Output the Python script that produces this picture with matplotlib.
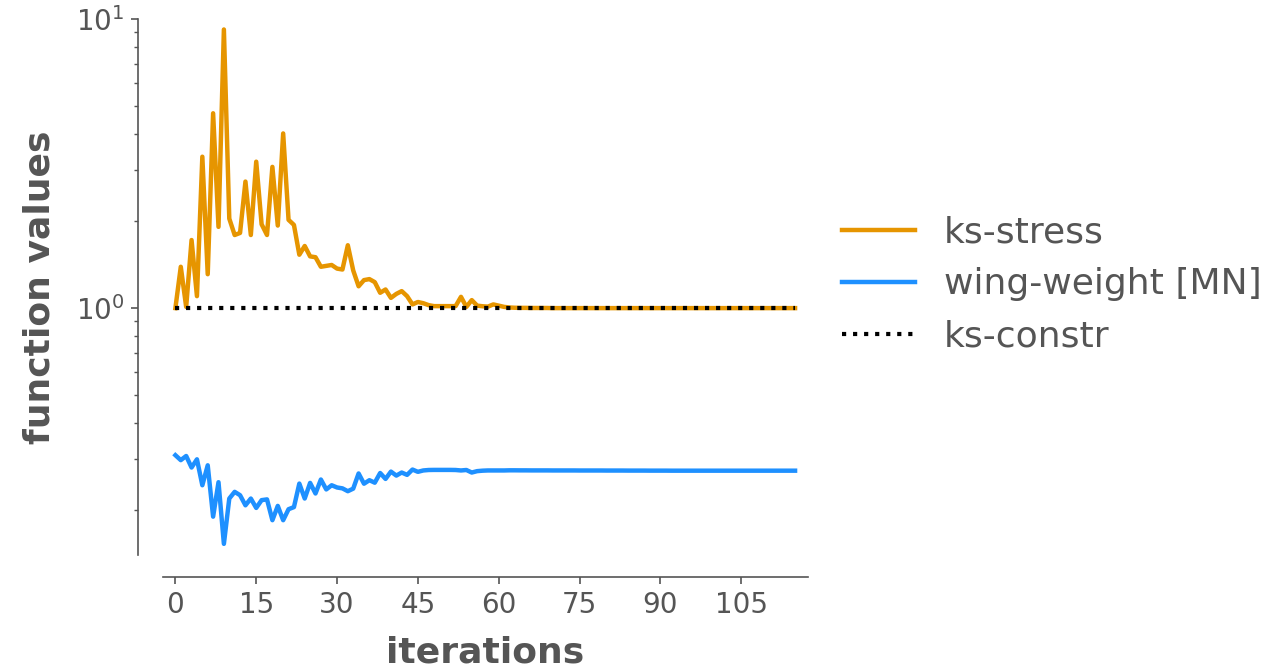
import numpy as np
import matplotlib
matplotlib.use('Agg')
import matplotlib.pyplot as plt
from matplotlib.ticker import MultipleLocator, LogLocator, NullFormatter

# values
ks_stress = [1.00, 1.39, 1.01, 1.72, 1.10, 3.34, 1.31, 4.72, 1.91, 9.20,
             2.04, 1.79, 1.82, 2.74, 1.79, 3.21, 1.95, 1.79, 3.08, 1.93,
             4.02, 2.02, 1.94, 1.53, 1.64, 1.51, 1.50, 1.39, 1.40, 1.41,
             1.37, 1.36, 1.65, 1.35, 1.19, 1.25, 1.26, 1.23, 1.13, 1.16,
             1.085, 1.12, 1.145, 1.10, 1.03, 1.05, 1.04, 1.024, 1.016, 1.016,
             1.016, 1.016, 1.016, 1.094, 1.01, 1.066, 1.02, 1.015, 1.012, 1.03,
             1.02, 1.01, 1.005, 1.003, 1.002, 1.002, 1.001, 1.001, 1.001, 1.001] + [1.0] * 46

wing_weight = [0.310, 0.298, 0.308, 0.281, 0.300, 0.244, 0.286, 0.190, 0.250, 0.153,
               0.2195, 0.2315, 0.2254, 0.208, 0.2195, 0.2037, 0.2167, 0.218, 0.1847, 0.207,
               0.1847, 0.2016, 0.205, 0.2473, 0.2195, 0.2486, 0.2285, 0.2554, 0.236, 0.244,
               0.2397, 0.238, 0.2327, 0.2375, 0.268, 0.247, 0.254, 0.249, 0.269, 0.2566,
               0.272, 0.2635, 0.270, 0.265, 0.2765, 0.2715, 0.2745, 0.2755, 0.2757, 0.2757,
               0.2757, 0.2757, 0.2755, 0.2745, 0.2755, 0.270, 0.273, 0.274, 0.2745, 0.2745,
               0.2745, 0.2745, 0.2748, 0.2748, 0.2747, 0.2747, 0.2746, 0.2746, 0.2746, 0.2746,
               0.2745, 0.2745, 0.2745, 0.2745, 0.2745, 0.2744, 0.2744, 0.2744, 0.2744, 0.2744,
               0.2743, 0.2743, 0.2743, 0.2743, 0.2742, 0.2742, 0.2742, 0.2742, 0.2741, 0.2741,
               0.2741, 0.2741, 0.2740, 0.2740, 0.2740, 0.2740, 0.2740, 0.2740, 0.2740, 0.2740,
               0.2740, 0.2740, 0.2740, 0.2740, 0.2740, 0.2740, 0.2740, 0.2740, 0.2740, 0.2740,
               0.2740, 0.2740, 0.2740, 0.2740, 0.2740, 0.2740]

ks_constr = [1.0] * len(ks_stress)
iterations = np.arange(len(ks_stress))

labels = ['ks-stress', 'wing-weight [MN]', 'ks-constr']

gray = '#555555'
plt.rcParams['font.family'] = 'DejaVu Sans'
plt.rcParams['text.color'] = gray
plt.rcParams['axes.labelcolor'] = gray
plt.rcParams['xtick.color'] = gray
plt.rcParams['ytick.color'] = gray

fig = plt.figure(figsize=(12.79, 6.69), dpi=100)
ax = fig.add_axes([163 / 1279, 1 - 555 / 669, 645 / 1279, 536 / 669])

ax.plot(iterations, ks_stress, '-', color='#E69500', lw=3.2, label=labels[0])
ax.plot(iterations, wing_weight, '-', color='#1E90FF', lw=3.2, label=labels[1])
ax.plot(iterations, ks_constr, ':', color='black', lw=3.0, label=labels[2])

ax.set_yscale('log')
ax.set_ylim(0.14, 10)
ax.set_xlim(-2.3, 117.4)
ax.xaxis.set_major_locator(MultipleLocator(15))
ax.yaxis.set_minor_locator(LogLocator(base=10, subs=np.arange(2, 10)))
ax.yaxis.set_minor_formatter(NullFormatter())

# despine with offset
for s in ['top', 'right']:
    ax.spines[s].set_visible(False)
ax.spines['left'].set_position(('outward', 18))
ax.spines['bottom'].set_position(('outward', 16))
for s in ['left', 'bottom']:
    ax.spines[s].set_color(gray)
    ax.spines[s].set_linewidth(1.2)

ax.tick_params(axis='both', which='major', labelsize=20, length=5, width=1.2, pad=5)
ax.tick_params(axis='y', which='minor', length=3, width=1.0)

ax.set_xlabel('iterations', fontsize=26, fontweight='bold', labelpad=12)
ax.set_ylabel('function values', fontsize=26, fontweight='bold', labelpad=14)

ax.legend(loc='center left', bbox_to_anchor=(1.003, 0.505), frameon=False, fontsize=26)

fig.savefig('out.png', dpi=100)
